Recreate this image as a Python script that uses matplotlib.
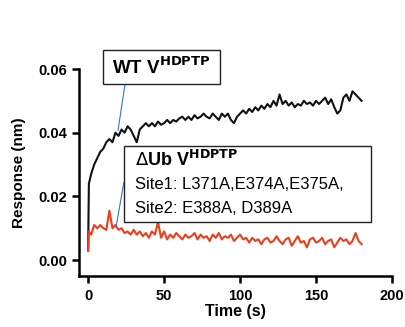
import numpy as np
import matplotlib
matplotlib.use("Agg")
from matplotlib import pyplot as plt

plt.rcParams['font.family'] = ['Liberation Sans', 'DejaVu Sans']

# time points (s)
time = [0, 0.5, 2, 4, 6, 8, 10, 12, 14, 16, 18, 20, 22, 24, 26, 28, 30, 32, 34, 36,
        38, 40, 42, 44, 46, 48, 50, 52, 54, 56, 58, 60, 62, 64, 66, 68, 70, 72, 74,
        76, 78, 80, 82, 84, 86, 88, 90, 92, 94, 96, 98, 100, 102, 104, 106, 108,
        110, 112, 114, 116, 118, 120, 122, 124, 126, 128, 130, 132, 134, 136, 138,
        140, 142, 144, 146, 148, 150, 152, 154, 156, 158, 160, 162, 164, 166, 168,
        170, 172, 174, 176, 178, 180]

# response, units of 1e-3 nm
wt = [3, 24, 27, 30, 32, 34, 35, 37, 38, 37, 40, 39, 41, 40, 42, 41, 39, 37, 41, 42,
      43, 42, 43, 42, 43.5, 42.5, 43, 44, 43, 44, 43.5, 44.5, 45, 44, 45, 44, 45.5,
      44.5, 45, 46, 45, 44.5, 46, 45, 44, 46, 45, 46, 44, 43, 45, 46, 47, 46, 47.5,
      46.5, 48, 47, 48.5, 47.5, 49, 48, 50, 48.5, 52, 49, 50, 48.5, 49.5, 48, 49,
      48.5, 50, 49, 49.5, 48.5, 50, 49, 50, 51, 49, 50.5, 48, 46, 47, 51, 52, 50,
      53, 52, 51, 50]

dub = [3, 9, 8, 11, 10, 11, 10, 9.5, 15.5, 10, 11, 9.5, 10, 8.5, 9, 8, 9.5, 8, 9,
       7.5, 8.5, 7, 9, 8, 12, 7, 9, 6.5, 8, 7, 8.5, 7.5, 6.5, 8, 7, 7.5, 8.5, 6.5, 8,
       7, 7.5, 6, 8, 7, 8.5, 6.5, 7.5, 7, 8, 6, 7, 8, 6.5, 7, 5.5, 7, 6, 6.5, 5, 6.5,
       7, 5.5, 6, 7.5, 6, 5, 6.5, 7, 4.5, 6, 7.5, 5.5, 6, 4, 6.5, 7, 5.5, 6, 7, 5, 6,
       6.5, 4, 5.5, 7, 6, 6.5, 5, 6, 8.5, 6, 5]

time = np.array(time)
wt = np.array(wt) / 1000
dub = np.array(dub) / 1000

fig = plt.figure(figsize=(4.05, 3.27), dpi=100)
ax = fig.add_axes([79 / 405, 1 - 276 / 327, (392 - 79) / 405, (276 - 69) / 327])

ax.plot(time, wt, color='#111111', lw=1.5)
ax.plot(time, dub, color='#f03c1c', lw=1.5)

ax.set_xlim(-6, 200)
ax.set_ylim(-0.005, 0.06)
ax.set_xticks([0, 50, 100, 150, 200])
ax.set_yticks([0, 0.02, 0.04, 0.06])
ax.set_yticklabels(['0.00', '0.02', '0.04', '0.06'])
for s in ['top', 'right']:
    ax.spines[s].set_visible(False)
for s in ['left', 'bottom']:
    ax.spines[s].set_linewidth(1.8)
ax.tick_params(width=1.8, length=5, labelsize=10.5)
ax.tick_params(axis='x', pad=4)
for lab in ax.get_xticklabels() + ax.get_yticklabels():
    lab.set_fontweight('bold')

ax.set_xlabel('Time (s)', fontsize=11.5, fontweight='bold', labelpad=1)
ax.set_ylabel('Response (nm)', fontsize=11, fontweight='bold', labelpad=9)

blue = '#3a6fd8'
# WT box
ax.plot([24.3, 19.7], [0.0553, 0.0408], color=blue, lw=0.8)
ax.add_patch(plt.Rectangle((9.9, 0.0553), 86.8 - 9.9, 0.0659 - 0.0553,
                           fc='white', ec='#222222', lw=1, zorder=4, clip_on=False))
ax.text(16, 0.0606, r'WT V$^{\mathbf{HDPTP}}$', fontsize=13.5, fontweight='bold',
        va='center', zorder=5, clip_on=False)

# dUb box
ax.plot([18.5, 23.5], [0.0107, 0.0243], color=blue, lw=0.8)
ax.add_patch(plt.Rectangle((23.5, 0.0118), 186.5 - 23.5, 0.0358 - 0.0118,
                           fc='white', ec='#222222', lw=1, zorder=4))
ax.text(31, 0.0315, r'$\Delta$Ub V$^{\mathbf{HDPTP}}$', fontsize=13,
        fontweight='bold', va='center', zorder=5)
ax.text(31, 0.0238, 'Site1: L371A,E374A,E375A,', fontsize=12, va='center', zorder=5)
ax.text(31, 0.0163, 'Site2: E388A, D389A', fontsize=12, va='center', zorder=5)

fig.savefig('out.png', dpi=100)
